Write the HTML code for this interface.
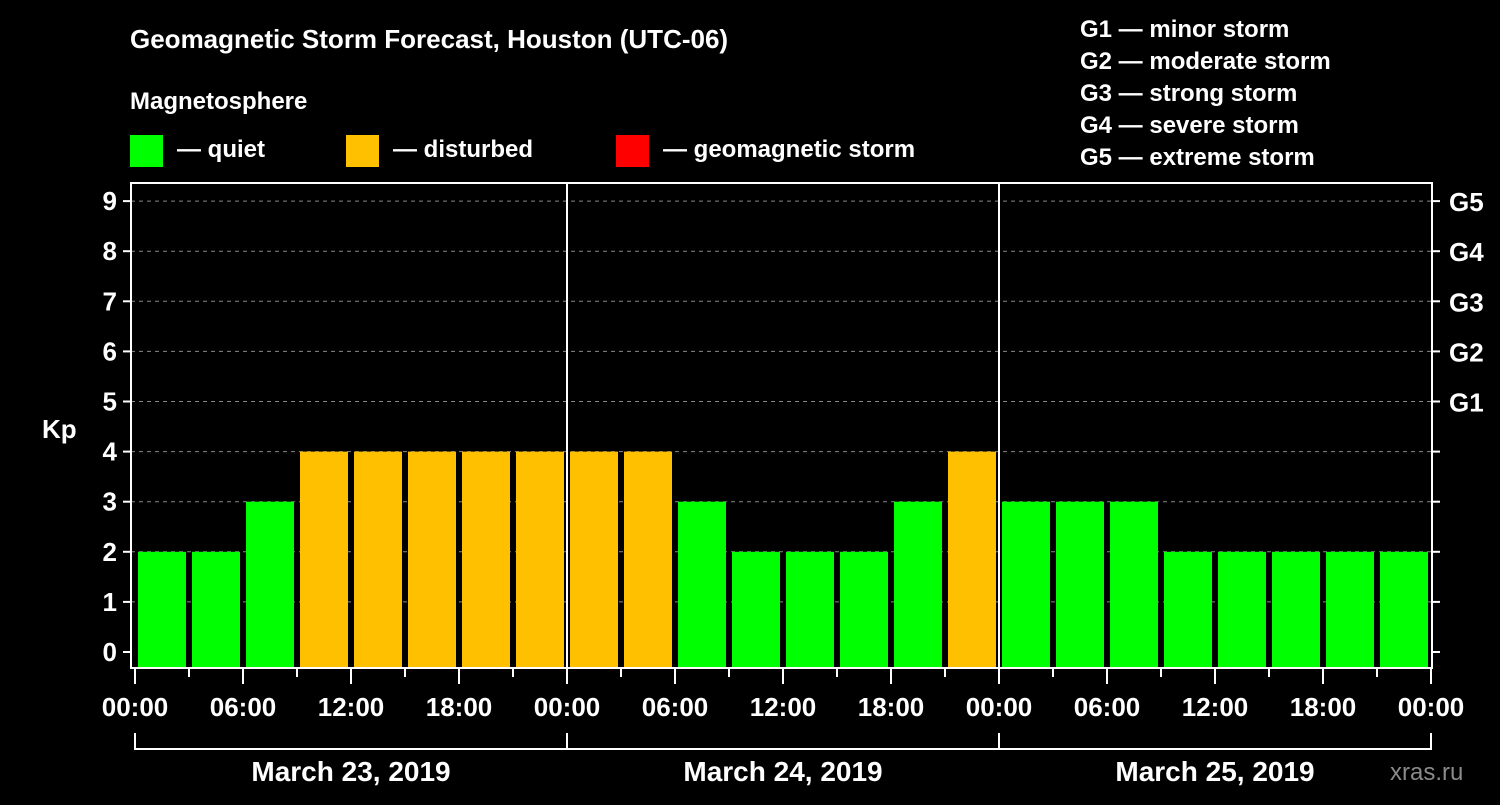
<!DOCTYPE html>
<html><head><meta charset="utf-8"><style>
body{margin:0;background:#000;width:1500px;height:800px;overflow:hidden}
svg text{font-family:"Liberation Sans",Arial,sans-serif;font-weight:bold;fill:#fff}
</style></head><body>
<svg id="c" width="1500" height="800">
<text x="130" y="48" font-size="26">Geomagnetic Storm Forecast, Houston (UTC-06)</text>
<text x="130" y="109" font-size="24">Magnetosphere</text>
<g><rect x="130" y="135" width="33" height="32" fill="#00ff00"/><text x="177" y="157" font-size="24">— quiet</text></g>
<g><rect x="346" y="135" width="33" height="32" fill="#ffc000"/><text x="393" y="157" font-size="24">— disturbed</text></g>
<g><rect x="616" y="135" width="33" height="32" fill="#ff0000"/><text x="663" y="157" font-size="24">— geomagnetic storm</text></g>
<g font-size="24">
<text x="1080" y="37">G1 — minor storm</text><text x="1080" y="69">G2 — moderate storm</text><text x="1080" y="101">G3 — strong storm</text><text x="1080" y="133">G4 — severe storm</text><text x="1080" y="165">G5 — extreme storm</text></g>
<text x="42" y="438" font-size="26">Kp</text>
<text x="1390" y="780" font-size="24" fill="#888" style="fill:#8a8a8a;font-weight:normal">xras.ru</text>
<g id="g"></g>
</svg>
<script>
const kpValues=[2,2,3,4,4,4,4,4,4,4,3,2,2,2,3,4,3,3,3,2,2,2,2,2];
const yTicks=[0,1,2,3,4,5,6,7,8,9];
const gLabels=["G1","G2","G3","G4","G5"];
const timeLabels=["00:00","06:00","12:00","18:00"];
const dayLabels=["March 23, 2019","March 24, 2019","March 25, 2019"];
const NS="http://www.w3.org/2000/svg",g=document.getElementById('g');
const X0=135,SLOT=54,L=131,R=1432,T=183,B=668;
const x=i=>X0+i*SLOT;
const y=k=>652-50.1*k;
function el(t,a,txt){const e=document.createElementNS(NS,t);for(const k in a)e.setAttribute(k,a[k]);if(txt!==undefined)e.textContent=txt;g.appendChild(e);return e;}
yTicks.forEach(k=>{
 if(k>0){const l=el('line',{x1:L,x2:R,y1:y(k),y2:y(k),stroke:'#888','stroke-dasharray':'4,4'});
 
 }
 el('line',{x1:L-8,x2:L,y1:y(k),y2:y(k),stroke:'#fff','stroke-width':2});
 el('line',{x1:R,x2:R+8,y1:y(k),y2:y(k),stroke:'#fff','stroke-width':2});
 const t=el('text',{x:L-14,y:y(k)+9,'font-size':26,'text-anchor':'end'},k);
 
 
});
gLabels.forEach((s,i)=>{const t=el('text',{x:1449,y:y(i+5)+10,'font-size':26},s);
 
 });
kpValues.forEach((v,i)=>{
 const col=v>=5?'#ff0000':v>=4?'#ffc000':'#00ff00';
 const r=el('rect',{x:x(i)+3,y:y(v),width:48,height:B-y(v),fill:col});
 
 
});
for(let d=1;d<3;d++){el('line',{x1:x(d*8),x2:x(d*8),y1:T,y2:B,stroke:'#fff','stroke-width':2});}
el('rect',{x:L,y:T,width:R-L,height:B-T,fill:'none',stroke:'#fff','stroke-width':2});
for(let i=0;i<=24;i++){el('line',{x1:x(i),x2:x(i),y1:B,y2:B+(i%2?9:16),stroke:'#fff','stroke-width':2});}
for(let i=0;i<=12;i++){const t=el('text',{x:x(i*2),y:716,'font-size':26,'text-anchor':'middle'},timeLabels[i%4]);
 
 }
el('polyline',{points:`${x(0)},733 ${x(0)},749 ${x(24)},749 ${x(24)},733`,fill:'none',stroke:'#fff','stroke-width':2});
for(let d=1;d<3;d++)el('line',{x1:x(d*8),x2:x(d*8),y1:733,y2:749,stroke:'#fff','stroke-width':2});
dayLabels.forEach((s,d)=>{const t=el('text',{x:x(d*8+4),y:781,'font-size':28,'text-anchor':'middle'},s);
 
 });
</script>
</body></html>
